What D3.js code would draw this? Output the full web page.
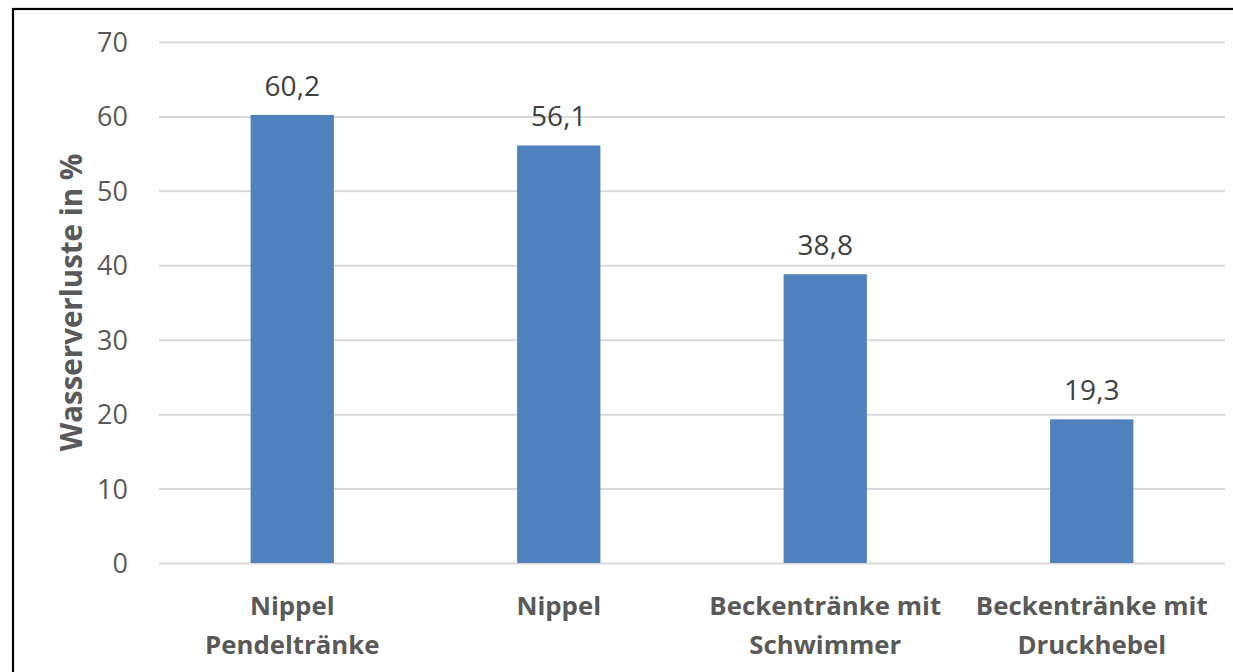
<!DOCTYPE html>
<html>
<head>
<meta charset="utf-8">
<script src="https://cdn.jsdelivr.net/npm/d3@7"></script>
<style>
  html, body { margin: 0; padding: 0; background: #fff; }
  svg { display: block; }
</style>
</head>
<body>
<div id="chart"></div>
<script>
// Water loss per drinker type
const categories = [
  ["Nippel", "Pendeltränke"],
  ["Nippel"],
  ["Beckentränke mit", "Schwimmer"],
  ["Beckentränke mit", "Druckhebel"]
];
const values = [60.2, 56.1, 38.8, 19.3];
const valueLabels = ["60,2", "56,1", "38,8", "19,3"];
const yTicks = [0, 10, 20, 30, 40, 50, 60, 70];
const yTitle = "Wasserverluste in %";

const W = 1233, H = 672;
const plot = { left: 159, right: 1225, top: 42, bottom: 563 };
const FONT = "'Open Sans', 'Noto Sans', sans-serif";

const svg = d3.select("#chart").append("svg")
  .attr("width", W).attr("height", H);

// frame around the chart area
svg.append("rect")
  .attr("x", 13).attr("y", 9)
  .attr("width", 1400).attr("height", 900)
  .attr("fill", "none").attr("stroke", "#000").attr("stroke-width", 2.2);

const x = d3.scaleBand()
  .domain(d3.range(categories.length))
  .range([plot.left, plot.right])
  .paddingInner(0.6875)
  .paddingOuter(0.34375);

const y = d3.scaleLinear()
  .domain([0, 70])
  .range([plot.bottom, plot.top]);

// horizontal gridlines and tick labels
const yAxis = d3.axisLeft(y)
  .tickValues(yTicks)
  .tickSize(-(plot.right - plot.left))
  .tickPadding(31)
  .tickFormat(d3.format("d"));

const gy = svg.append("g")
  .attr("transform", `translate(${plot.left},0)`)
  .call(yAxis);
gy.select(".domain").remove();
gy.selectAll(".tick line")
  .attr("stroke", "#d9d9d9").attr("stroke-width", 2);
gy.selectAll(".tick text")
  .attr("fill", "#595959")
  .style("font-family", FONT)
  .style("font-size", "27px")
  .attr("dy", "0.35em");

// bars
svg.append("g").selectAll("rect")
  .data(values)
  .join("rect")
  .attr("x", (d, i) => x(i))
  .attr("width", x.bandwidth())
  .attr("y", d => y(d))
  .attr("height", d => y(0) - y(d))
  .attr("fill", "#4f81bd");

// value labels above bars
svg.append("g").selectAll("text")
  .data(values)
  .join("text")
  .attr("x", (d, i) => x(i) + x.bandwidth() / 2)
  .attr("y", d => y(d) - 19)
  .attr("text-anchor", "middle")
  .attr("fill", "#404040")
  .style("font-family", FONT)
  .style("font-size", "28px")
  .text((d, i) => valueLabels[i]);

// category labels (two lines where needed)
const gx = svg.append("g");
categories.forEach((lines, i) => {
  const t = gx.append("text")
    .attr("x", x(i) + x.bandwidth() / 2)
    .attr("y", 615)
    .attr("text-anchor", "middle")
    .attr("fill", "#595959")
    .style("font-family", FONT)
    .style("font-weight", "bold")
    .style("font-size", "25.8px");
  lines.forEach((line, j) => {
    t.append("tspan")
      .attr("x", x(i) + x.bandwidth() / 2)
      .attr("y", 615 + j * 39)
      .text(line);
  });
});

// y axis title
svg.append("text")
  .attr("transform", `translate(82,${(plot.top + plot.bottom) / 2}) rotate(-90)`)
  .attr("text-anchor", "middle")
  .attr("fill", "#595959")
  .style("font-family", FONT)
  .style("font-weight", "bold")
  .style("font-size", "29.5px")
  .text(yTitle);
</script>
</body>
</html>
